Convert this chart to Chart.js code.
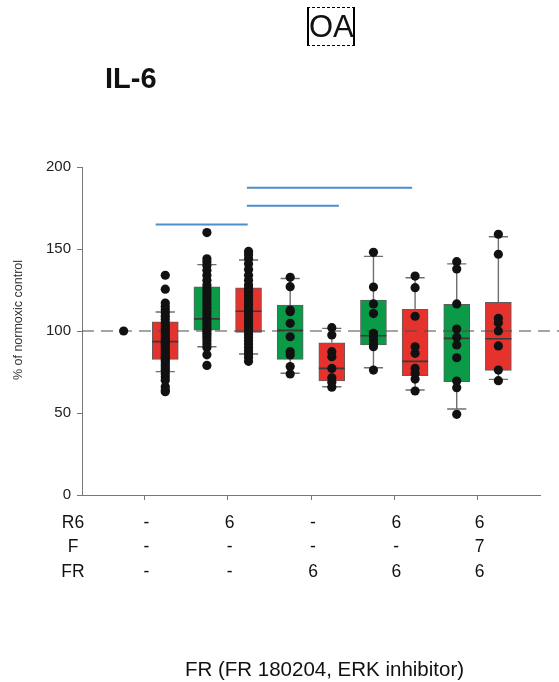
<!DOCTYPE html>
<html><head><meta charset="utf-8">
<script src="https://cdn.jsdelivr.net/npm/chart.js@4.4.0/dist/chart.umd.min.js"></script>
<style>
html,body{margin:0;padding:0;background:#fff;width:559px;height:682px;overflow:hidden;font-family:"Liberation Sans",Arial,sans-serif;color:#111}
#c{position:absolute;left:0;top:0}
.t{position:absolute;white-space:nowrap;line-height:1}
#oa{position:absolute;left:307px;top:7px;width:48px;height:39px;box-sizing:border-box;border-top:1px dashed #000;border-bottom:1px dashed #000;border-left:2px solid #000;border-right:2px solid #000;font-size:31px;line-height:37px;text-align:center}
#il6{position:absolute;left:105px;top:64px;font-size:29px;font-weight:bold;line-height:1}
#foot{position:absolute;left:0;width:649px;top:659px;font-size:20.5px;line-height:1;text-align:center}
#ytitle{position:absolute;left:18px;top:320px;width:200px;margin-left:-100px;margin-top:-7px;font-size:12.5px;line-height:14px;text-align:center;color:#333;transform:rotate(-90deg);white-space:nowrap}
</style></head><body>
<canvas id="c" width="559" height="682"></canvas>
<div id="oa">OA</div>
<div id="il6">IL-6</div>
<div id="ytitle"></div>
<div id="table"></div>
<div id="foot">FR (FR 180204, ERK inhibitor)</div>
<script>
// ---- data ----
const categories = ['Control normoxia','Control hypoxia','R6 normoxia','R6 hypoxia','FR normoxia','FR hypoxia','R6+FR normoxia','R6+FR hypoxia','R6+F+FR normoxia','R6+F+FR hypoxia'];
const condition  = ['N','H','N','H','N','H','N','H','N','H'];
const whiskerLow  = [null, 75.2, 90.4, 86.0, 74.2, 66.0, 77.6, 64.0, 52.4, 70.5];
const q1          = [null, 82.7, 100.5, 99.2, 82.7, 69.5, 91.5, 72.8, 69.1, 76.0];
const median      = [null, 93.5, 107.4, 112.0, 100.4, 77.2, 97.1, 81.5, 95.5, 95.3];
const q3          = [null, 105.6, 126.9, 126.3, 115.8, 92.8, 118.9, 113.2, 116.3, 117.5];
const whiskerHigh = [null, 111.6, 140.5, 143.3, 132.0, 101.6, 145.5, 132.5, 140.9, 157.5];
const points = [
  [100],
  [134,125.5,117,115,113,111,109,107,105,103,101.5,100,98.5,97,95.5,94,93,92,90.5,89,88,86.5,85,84,83,82,80.5,79,77.5,76,74,72,70,66,64,63],
  [160,144,142,140,137,134,131,128,126,124,122,120,118,116,114,112,110,108,106,104,102,100.5,99,97.5,96,94,92,90,85.5,79],
  [148.5,146.5,144,141,137.5,134,131,128,126,124,122,120,118,116,114,112,110,108,106,104,102,100,98,96,94,92,90,88,86,84,81.5],
  [132.7,127,112.8,111.8,104.7,96.5,87.4,85.4,78.3,73.8],
  [102,97.6,87.4,84.3,77.2,71.5,68.7,65.7],
  [148,126.8,116.5,110.6,98.6,97,94.5,92,90.4,76.2],
  [133.5,126.4,109,90.4,86.4,77.2,74.2,70.7,63.4],
  [142.3,137.8,116.5,101.2,96.2,91.5,83.7,69.5,65.4,49.2],
  [159,146.8,107.7,105,100,90.9,76.2,69.7]
];
const referenceValue = 100;
const sigFrom = [1.77, 3.96, 3.96];
const sigTo   = [3.98, 7.93, 6.17];
const sigY    = [165, 187.4, 176.4];
const yTicks = [0, 50, 100, 150, 200];
const columnTicks = [1.5, 3.5, 5.5, 7.5, 9.5];
const rowLabels = ['R6', 'F', 'FR'];
const rowR6 = ['-', '6', '-', '6', '6'];
const rowF  = ['-', '-', '-', '-', '7'];
const rowFR = ['-', '-', '6', '6', '6'];
const yTitle = '% of normoxic control';

// ---- styles ----
const colors = { N: '#0b9a48', H: '#e5322d' };
const BOX_W = 26, CAP_HALF = 0.23, MED_HALF = 0.31;

const xOf = i => i + 1;
const boxIdx = categories.map((_, i) => i).filter(i => q1[i] !== null);
const boxData = boxIdx.map(i => ({ x: xOf(i), y: [q1[i], q3[i]] }));
const boxColors = boxIdx.map(i => colors[condition[i]]);
const whisk = [];
boxIdx.forEach(i => {
  const x = xOf(i);
  whisk.push({x, y: q3[i]}, {x, y: whiskerHigh[i]}, {x, y: null});
  whisk.push({x, y: q1[i]}, {x, y: whiskerLow[i]}, {x, y: null});
  whisk.push({x: x - CAP_HALF, y: whiskerHigh[i]}, {x: x + CAP_HALF, y: whiskerHigh[i]}, {x, y: null});
  whisk.push({x: x - CAP_HALF, y: whiskerLow[i]}, {x: x + CAP_HALF, y: whiskerLow[i]}, {x, y: null});
});
const med = [];
boxIdx.forEach(i => {
  const x = xOf(i);
  med.push({x: x - MED_HALF, y: median[i]}, {x: x + MED_HALF, y: median[i]}, {x, y: null});
});
const pts = [];
points.forEach((arr, i) => arr.forEach(v => pts.push({ x: xOf(i), y: v })));
const sig = [];
sigFrom.forEach((f, k) => sig.push({x: f, y: sigY[k]}, {x: sigTo[k], y: sigY[k]}, {x: f, y: null}));

document.getElementById('ytitle').textContent = yTitle;

new Chart(document.getElementById('c'), {
  type: 'bar',
  data: {
    datasets: [
      { type: 'bar', data: boxData, backgroundColor: boxColors, borderColor: '#5e5e5e', borderWidth: 1,
        borderSkipped: false, barThickness: BOX_W, grouped: false, order: 5 },
      { type: 'line', data: [{x: 0, y: referenceValue}, {x: 11.46, y: referenceValue}], borderColor: '#4a4a4a',
        borderWidth: 1, borderDash: [12, 7], pointRadius: 0, clip: false, order: 4 },
      { type: 'line', data: whisk, borderColor: '#6f6f6f', borderWidth: 1.4, pointRadius: 0, spanGaps: false, tension: 0, order: 3 },
      { type: 'line', data: med, borderColor: '#3a3a3a', borderWidth: 1.6, pointRadius: 0, spanGaps: false, tension: 0, order: 2 },
      { type: 'scatter', data: pts, pointRadius: 4.6, backgroundColor: '#111', borderWidth: 0, order: 1 },
      { type: 'line', data: sig, borderColor: '#4a8fcb', borderWidth: 2, pointRadius: 0, spanGaps: false, tension: 0, order: 0 }
    ]
  },
  options: {
    responsive: false,
    animation: false,
    events: [],
    layout: { padding: { top: 167, right: 19, bottom: 182, left: 0 } },
    plugins: { legend: { display: false }, tooltip: { enabled: false } },
    scales: {
      x: {
        type: 'linear', min: 0, max: 11, offset: false,
        afterBuildTicks: s => { s.ticks = columnTicks.map(v => ({ value: v })); },
        ticks: { display: false },
        grid: { display: true, drawOnChartArea: false, tickLength: 5, color: '#777', offset: false },
        border: { color: '#777', width: 1 }
      },
      y: {
        min: 0, max: 200,
        afterBuildTicks: s => { s.ticks = yTicks.map(v => ({ value: v })); },
        afterFit: s => { s.width = 82; },
        ticks: { font: { family: 'Liberation Sans', size: 15 }, color: '#222', padding: 6 },
        grid: { display: true, drawOnChartArea: false, tickLength: 5, color: '#777' },
        border: { color: '#777', width: 1 },
        title: { display: false }
      }
    }
  }
});

// ---- table text (HTML) ----
const table = document.getElementById('table');
const rowTops = [522, 546, 571];
const rows = [rowR6, rowF, rowFR];
const colPx = columnTicks.map(v => 82 + (v / 11) * 458 + 2);
rows.forEach((row, r) => {
  const lab = document.createElement('div');
  lab.className = 't';
  lab.style.cssText = `left:${73 - 30}px;width:60px;text-align:center;top:${rowTops[r] - 8.5}px;font-size:17.5px`;
  lab.textContent = rowLabels[r];
  table.appendChild(lab);
  row.forEach((txt, c) => {
    const d = document.createElement('div');
    d.className = 't';
    d.style.cssText = `left:${colPx[c] - 20}px;width:40px;text-align:center;top:${rowTops[r] - 8.5}px;font-size:17.5px`;
    d.textContent = txt;
    table.appendChild(d);
  });
});
</script>
</body></html>
